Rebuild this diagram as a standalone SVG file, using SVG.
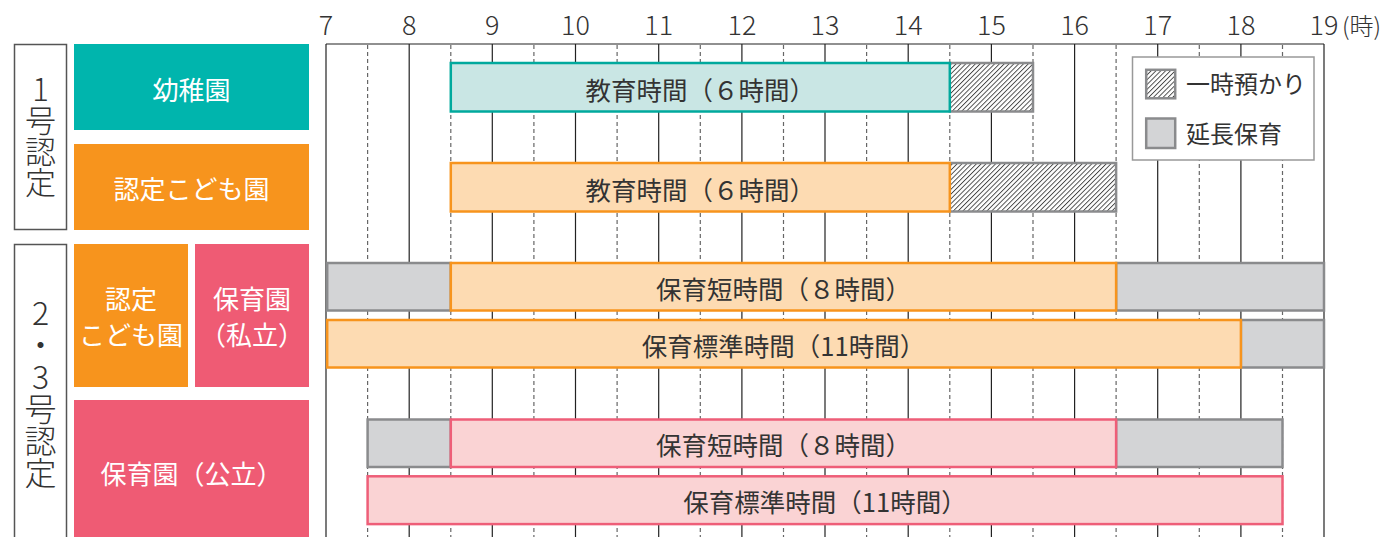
<svg xmlns="http://www.w3.org/2000/svg" width="1389" height="537" viewBox="0 0 1389 537">
<style>
.hr{font-family:"Noto Sans CJK JP","Noto Sans",sans-serif;font-weight:300;font-size:27px;fill:#333;text-anchor:middle}
.jp{font-family:"Noto Sans CJK JP","Noto Sans",sans-serif}
.lbl{font-size:26px;fill:#fff;text-anchor:middle;dominant-baseline:central}
.bt{font-size:25.5px;fill:#333;text-anchor:middle;dominant-baseline:central}
.vt{fill:#333;font-weight:300;writing-mode:vertical-rl;text-orientation:upright}
.lg{font-size:24px;fill:#333;dominant-baseline:central}
.solid{stroke:#222;stroke-width:1.2}
.dash{stroke:#666;stroke-width:1.2;stroke-dasharray:4 3}
.gray{fill:#d3d4d6;stroke:#8a8b8d;stroke-width:2.5}
.hatch{fill:url(#hp);stroke:#8a8b8d;stroke-width:2.5}
.teal{fill:#c9e6e4;stroke:#00a99d;stroke-width:2.5}
.ora{fill:#fddbb2;stroke:#f7941d;stroke-width:2.5}
.pink{fill:#fad3d4;stroke:#ee5e78;stroke-width:2.5}
</style>
<defs>
<pattern id="hp" patternUnits="userSpaceOnUse" width="3.4" height="3.4" patternTransform="rotate(45)">
<rect width="3.4" height="3.4" fill="#fff"/>
<line x1="0.5" y1="0" x2="0.5" y2="3.4" stroke="#333" stroke-width="0.85"/>
</pattern>
</defs>
<rect width="1389" height="537" fill="#fff"/>

<g id="axis">
<text class="hr" x="326" y="35">7</text>
<text class="hr" x="409.2" y="35">8</text>
<text class="hr" x="492.3" y="35">9</text>
<text class="hr" x="575.5" y="35">10</text>
<text class="hr" x="658.7" y="35">11</text>
<text class="hr" x="741.9" y="35">12</text>
<text class="hr" x="825" y="35">13</text>
<text class="hr" x="908.2" y="35">14</text>
<text class="hr" x="991.4" y="35">15</text>
<text class="hr" x="1074.6" y="35">16</text>
<text class="hr" x="1157.7" y="35">17</text>
<text class="hr" x="1240.9" y="35">18</text>
<text class="hr" x="1324" y="35">19</text>
<text class="jp" x="1342" y="35" font-size="24" fill="#333" font-weight="300">(時)</text>
</g>

<g id="grid">
<line class="solid" x1="326" y1="44" x2="1324" y2="44"/>
<line class="solid" x1="326" y1="44" x2="326" y2="537"/>
<line class="solid" x1="409.2" y1="44" x2="409.2" y2="537"/>
<line class="solid" x1="492.3" y1="44" x2="492.3" y2="537"/>
<line class="solid" x1="575.5" y1="44" x2="575.5" y2="537"/>
<line class="solid" x1="658.7" y1="44" x2="658.7" y2="537"/>
<line class="solid" x1="741.9" y1="44" x2="741.9" y2="537"/>
<line class="solid" x1="825" y1="44" x2="825" y2="537"/>
<line class="solid" x1="908.2" y1="44" x2="908.2" y2="537"/>
<line class="solid" x1="991.4" y1="44" x2="991.4" y2="537"/>
<line class="solid" x1="1074.6" y1="44" x2="1074.6" y2="537"/>
<line class="solid" x1="1157.7" y1="44" x2="1157.7" y2="537"/>
<line class="solid" x1="1240.9" y1="44" x2="1240.9" y2="537"/>
<line class="solid" x1="1324" y1="44" x2="1324" y2="537"/>
<line class="dash" x1="367.6" y1="45" x2="367.6" y2="537"/>
<line class="dash" x1="450.8" y1="45" x2="450.8" y2="537"/>
<line class="dash" x1="533.9" y1="45" x2="533.9" y2="537"/>
<line class="dash" x1="617.1" y1="45" x2="617.1" y2="537"/>
<line class="dash" x1="700.3" y1="45" x2="700.3" y2="537"/>
<line class="dash" x1="783.5" y1="45" x2="783.5" y2="537"/>
<line class="dash" x1="866.6" y1="45" x2="866.6" y2="537"/>
<line class="dash" x1="949.8" y1="45" x2="949.8" y2="537"/>
<line class="dash" x1="1033" y1="45" x2="1033" y2="537"/>
<line class="dash" x1="1116.1" y1="45" x2="1116.1" y2="537"/>
<line class="dash" x1="1199.3" y1="45" x2="1199.3" y2="537"/>
<line class="dash" x1="1282.5" y1="45" x2="1282.5" y2="537"/>
</g>

<g id="cat1">
<rect x="14.5" y="44.5" width="52" height="185" fill="#fff" stroke="#555" stroke-width="1.5"/>
<text class="jp vt" x="40.5" y="73.5" font-size="31">1号認定</text>
</g>
<g id="cat23">
<rect x="14.5" y="244.5" width="52" height="300" fill="#fff" stroke="#555" stroke-width="1.5"/>
<text class="jp vt" x="40.5" y="297" font-size="32">2・3号認定</text>
</g>

<g id="youchien">
<rect x="74" y="44" width="235" height="86" fill="#00b5ad"/>
<text class="jp lbl" x="191.5" y="88">幼稚園</text>
</g>
<g id="kodomoen1">
<rect x="74" y="144" width="235" height="86" fill="#f7941d"/>
<text class="jp lbl" x="191.5" y="187.5">認定こども園</text>
</g>
<g id="kodomoen2">
<rect x="74" y="244" width="114" height="143" fill="#f7941d"/>
<text class="jp lbl" x="131" y="297.5">認定</text>
<text class="jp lbl" x="131" y="333">こども園</text>
</g>
<g id="hoikuen-shiritsu">
<rect x="195" y="244" width="114" height="143" fill="#ef5b74"/>
<text class="jp lbl" x="252" y="297.5">保育園</text>
<text class="jp lbl" x="252" y="333">（私立）</text>
</g>
<g id="hoikuen-kouritsu">
<rect x="74" y="400" width="235" height="137" fill="#ef5b74"/>
<text class="jp lbl" x="191.5" y="472">保育園（公立）</text>
</g>

<g id="row1">
<rect class="hatch" x="949.8" y="63" width="83.2" height="48.5"/>
<rect class="teal" x="450.8" y="63" width="499" height="48.5"/>
<text class="jp bt" x="700.3" y="88">教育時間（６時間）</text>
</g>
<g id="row2">
<rect class="hatch" x="949.8" y="163" width="166.3" height="48.5"/>
<rect class="ora" x="450.8" y="163" width="499" height="48.5"/>
<text class="jp bt" x="700.3" y="188">教育時間（６時間）</text>
</g>
<g id="row3">
<rect class="gray" x="327.2" y="263" width="123.6" height="47.5"/>
<rect class="gray" x="1116.1" y="263" width="207.9" height="47.5"/>
<rect class="ora" x="450.8" y="263" width="665.3" height="47.5"/>
<text class="jp bt" x="783.5" y="287">保育短時間（８時間）</text>
</g>
<g id="row4">
<rect class="gray" x="1240.9" y="320" width="83.1" height="47.5"/>
<rect class="ora" x="327.2" y="320" width="913.7" height="47.5"/>
<text class="jp bt" x="783.5" y="344">保育標準時間（11時間）</text>
</g>
<g id="row5">
<rect class="gray" x="367.6" y="419.5" width="83.2" height="47.5"/>
<rect class="gray" x="1116.1" y="419.5" width="166.4" height="47.5"/>
<rect class="pink" x="450.8" y="419.5" width="665.3" height="47.5"/>
<text class="jp bt" x="783.5" y="443.5">保育短時間（８時間）</text>
</g>
<g id="row6">
<rect class="pink" x="367.6" y="476.3" width="914.9" height="47.8"/>
<text class="jp bt" x="825" y="500.5">保育標準時間（11時間）</text>
</g>

<g id="legend">
<rect x="1132.5" y="57" width="181.5" height="103" fill="#fff" stroke="#999" stroke-width="1.5"/>
<rect class="hatch" x="1146.2" y="69.8" width="29" height="28.5"/>
<text class="jp lg" x="1186" y="82">一時預かり</text>
<rect class="gray" x="1146.2" y="118.5" width="29" height="29.5"/>
<text class="jp lg" x="1186" y="132.5">延長保育</text>
</g>
</svg>
